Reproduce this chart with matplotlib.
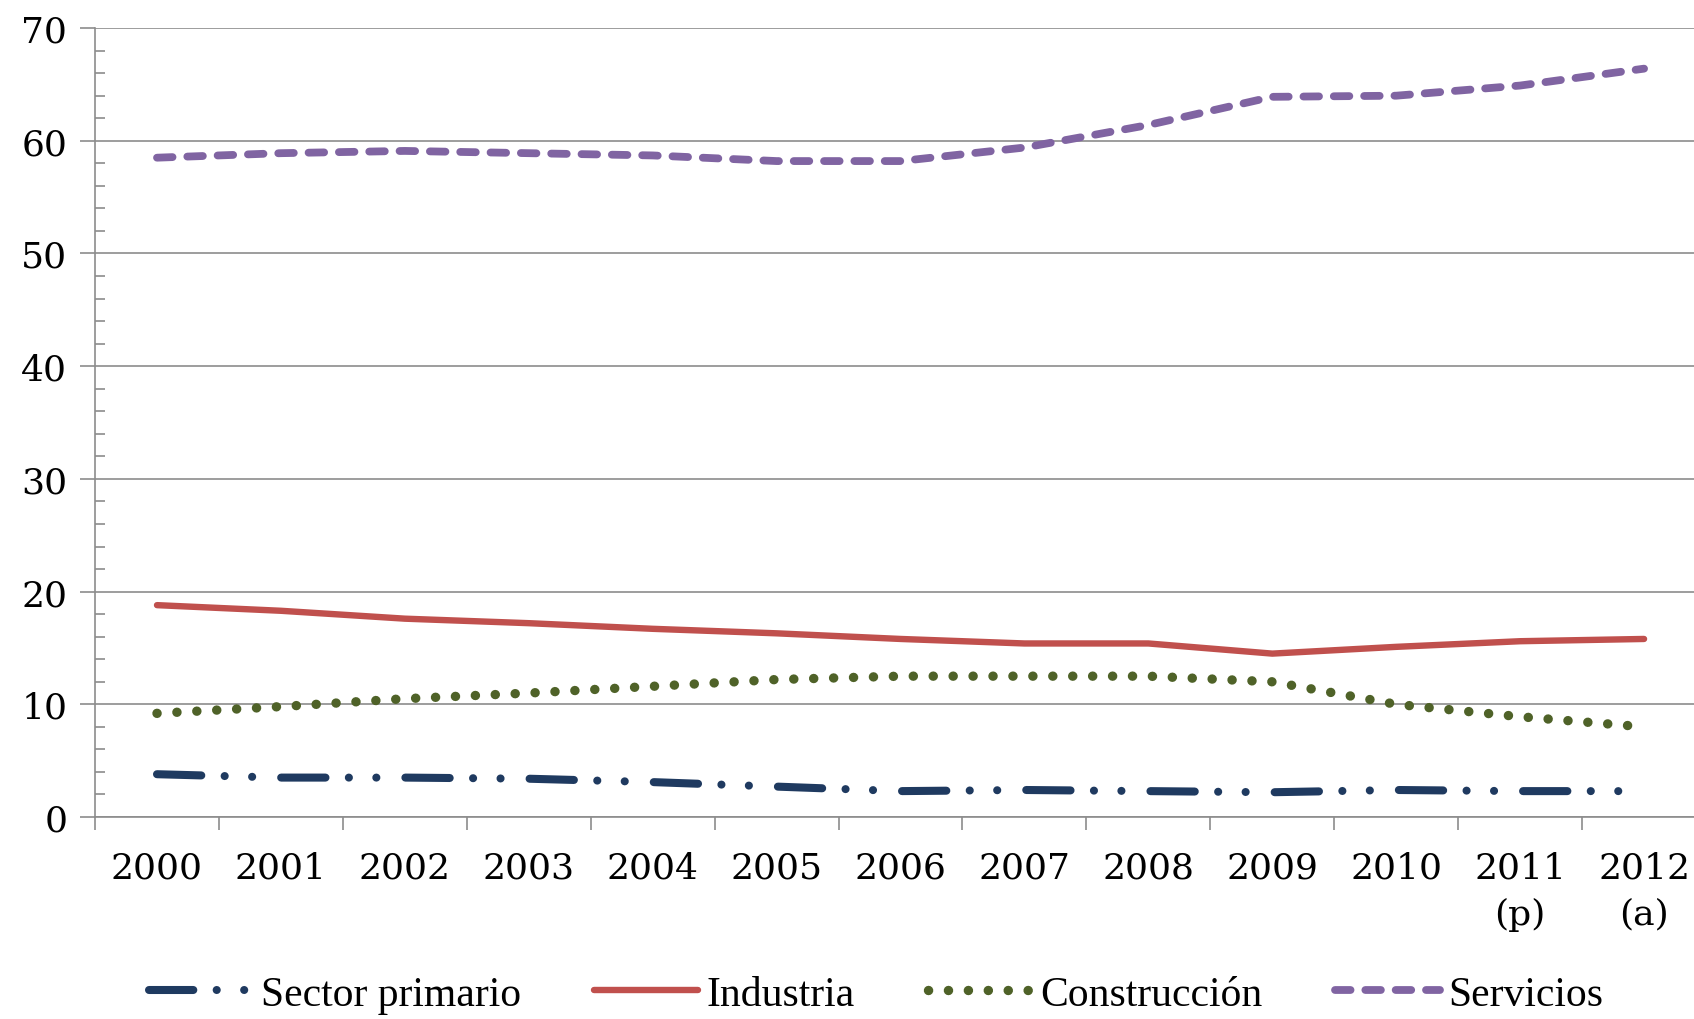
import numpy as np
import matplotlib.pyplot as plt
from matplotlib.ticker import MultipleLocator

plt.rcParams['font.family'] = ['DejaVu Serif', 'Liberation Serif']

# Participación de cada sector (%), 2000-2012
years = ['2000', '2001', '2002', '2003', '2004', '2005', '2006',
         '2007', '2008', '2009', '2010', '2011\n(p)', '2012\n(a)']
primario = [3.8, 3.5, 3.5, 3.4, 3.1, 2.7, 2.3, 2.4, 2.3, 2.2, 2.4, 2.3, 2.3]
industria = [18.8, 18.3, 17.6, 17.2, 16.7, 16.3, 15.8, 15.4, 15.4, 14.5, 15.1, 15.6, 15.8]
construccion = [9.2, 9.8, 10.5, 11.0, 11.6, 12.2, 12.5, 12.5, 12.5, 12.0, 10.0, 8.9, 8.0]
servicios = [58.5, 58.9, 59.1, 58.9, 58.7, 58.2, 58.2, 59.4, 61.4, 63.9, 64.0, 64.9, 66.4]

x = np.arange(len(years))
grey = '#8c8c8c'

fig = plt.figure(figsize=(16.94, 10.20), dpi=100)
ax = fig.add_axes([0.0561, 0.198, 0.951, 0.7735])

ax.plot(x, primario, color='#1f3a60', lw=5.8, dash_capstyle='round',
        dashes=(5.5, 2.9, 0.01, 3.4, 0.01, 3.6), label='Sector primario')
ax.plot(x, industria, color='#c0504d', lw=4.6, solid_capstyle='round',
        label='Industria')
ax.plot(x, construccion, color='#4f6228', lw=6.8, dash_capstyle='round',
        dashes=(0.01, 2.1), label='Construcción')
ax.plot(x, servicios, color='#8064a2', lw=5.6, dash_capstyle='round',
        dashes=(2.0, 1.9), label='Servicios')

ax.set_xlim(-0.5, 12.5)
ax.set_ylim(0, 70)

# y axis: major ticks outward, minor ticks inward
ax.yaxis.set_major_locator(MultipleLocator(10))
ax.yaxis.set_minor_locator(MultipleLocator(2))
ax.tick_params(axis='y', which='major', direction='out', length=11,
               width=1.2, color=grey, labelsize=26, pad=9)
ax.tick_params(axis='y', which='minor', direction='in', length=7,
               width=1.2, color=grey)

# x axis: ticks between categories, labels at the centres
ax.set_xticks(np.arange(-0.5, 13, 1))
ax.set_xticklabels([])
ax.set_xticks(x, minor=True)
ax.set_xticklabels(years, minor=True, fontsize=26, linespacing=1.45)
ax.tick_params(axis='x', which='major', direction='out', length=9,
               width=1.2, color=grey)
ax.tick_params(axis='x', which='minor', length=0, pad=24)

ax.grid(axis='y', which='major', color=grey, lw=1.2)
ax.set_axisbelow(True)
for side in ['top', 'right']:
    ax.spines[side].set_visible(False)
for side in ['left', 'bottom']:
    ax.spines[side].set_color(grey)
    ax.spines[side].set_linewidth(1.2)

fig.legend(loc='center', bbox_to_anchor=(0.517, 0.024), ncol=4,
           frameon=False, handlelength=2.5, handletextpad=0.2,
           columnspacing=1.75,
           prop={'family': 'Liberation Serif', 'size': 30})

plt.savefig('out.png', dpi=100)
